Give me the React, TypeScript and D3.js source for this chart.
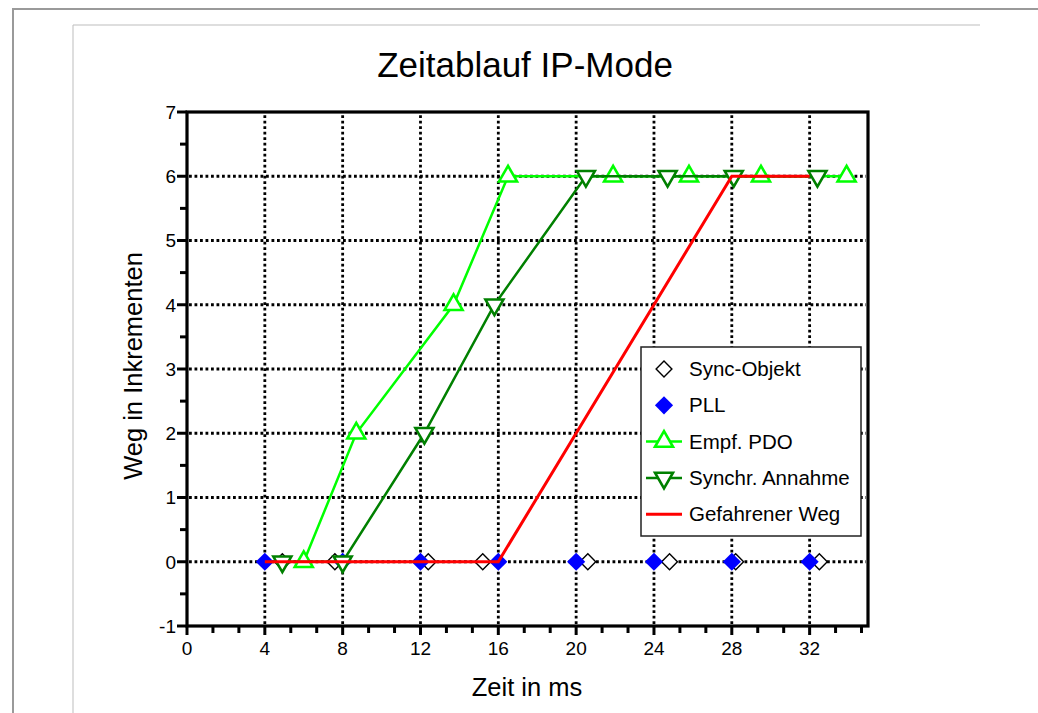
import React from 'react';
import * as d3 from 'd3';

// values (x in ms, y in increments)
const syncX = [4.9, 7.6, 12.4, 15.2, 20.6, 24.8, 28.2, 32.5];
const syncY = [0, 0, 0, 0, 0, 0, 0, 0];
const pllX = [4, 8, 12, 16, 20, 24, 28, 32];
const pllY = [0, 0, 0, 0, 0, 0, 0, 0];
const pdoX = [6.0, 8.7, 13.7, 16.5, 21.9, 25.8, 29.5, 33.9];
const pdoY = [0, 2, 4, 6, 6, 6, 6, 6];
const annX = [4.9, 8.0, 12.2, 15.8, 20.5, 24.7, 28.1, 32.4];
const annY = [0, 0, 2, 4, 6, 6, 6, 6];
const wegX = [4, 16, 28, 32];
const wegY = [0, 0, 6, 6];

const xTickLabels = [0, 4, 8, 12, 16, 20, 24, 28, 32];
const yTickLabels = [-1, 0, 1, 2, 3, 4, 5, 6, 7];
const legendLabels = ['Sync-Objekt', 'PLL', 'Empf. PDO', 'Synchr. Annahme', 'Gefahrener Weg'];

const W = 1038;
const H = 713;
const FONT = '"Liberation Sans", Arial, Helvetica, sans-serif';

const LIGHT = '#00ff00';
const DARK = '#008000';
const RED = '#ff0000';
const BLUE = '#0000ff';

export default function App() {
  const margin = { left: 187, right: 868, top: 112, bottom: 626 };
  const x = d3.scaleLinear().domain([0, 35]).range([margin.left, margin.right]);
  const y = d3.scaleLinear().domain([-1, 7]).range([margin.bottom, margin.top]);

  const zip = (xs: number[], ys: number[]) => xs.map((v, i) => [v, ys[i]] as [number, number]);
  const line = d3.line<[number, number]>().x(d => x(d[0])).y(d => y(d[1]));

  const diamondFilled = d3.symbol().type(d3.symbolSquare).size(165)()!;
  const diamondOpen = d3.symbol().type(d3.symbolSquare).size(125)()!;
  const tri = d3.symbol().type(d3.symbolTriangle).size(140)()!;

  const xMinor = d3.range(0, 27).map(i => i * 4 / 3);
  const yMinor = d3.range(-1, 7.01, 0.5);

  const gridDash = '2.8 2.7';

  const legendBox = { x: 641, y: 347, w: 220, h: 189 };
  const rowY = (i: number) => legendBox.y + 22 + i * 36.3;
  const symX = legendBox.x + 23;

  const legendMarker = (i: number, cy: number) => {
    switch (i) {
      case 0:
        return <path d={diamondOpen} transform={`translate(${symX},${cy}) rotate(45)`} fill="#fff" stroke="#000" strokeWidth={1.4} />;
      case 1:
        return <path d={diamondFilled} transform={`translate(${symX},${cy}) rotate(45)`} fill={BLUE} />;
      case 2:
        return (
          <g>
            <line x1={legendBox.x + 5} x2={legendBox.x + 41} y1={cy} y2={cy} stroke={LIGHT} strokeWidth={2.5} />
            <path d={tri} transform={`translate(${symX},${cy})`} fill="#fff" stroke={LIGHT} strokeWidth={2.6} />
          </g>
        );
      case 3:
        return (
          <g>
            <line x1={legendBox.x + 5} x2={legendBox.x + 41} y1={cy} y2={cy} stroke={DARK} strokeWidth={2.5} />
            <path d={tri} transform={`translate(${symX},${cy}) rotate(180)`} fill="#fff" stroke={DARK} strokeWidth={2.6} />
          </g>
        );
      default:
        return <line x1={legendBox.x + 5} x2={legendBox.x + 41} y1={cy} y2={cy} stroke={RED} strokeWidth={3} />;
    }
  };

  const tickFont = { fontSize: '19px', fontFamily: FONT };

  return (
    <svg width={W} height={H} style={{ position: 'absolute', left: 0, top: 0, background: '#fff', fontFamily: FONT }}>
      {/* page frames */}
      <path d={`M13,${H} V9 H${W}`} fill="none" stroke="#9a9a9a" strokeWidth={2} />
      <path d={`M73,${H} V25 H980`} fill="none" stroke="#bdbdbd" strokeWidth={1} />

      <text x={525} y={77} textAnchor="middle" style={{ fontSize: '35px' }}>Zeitablauf IP-Mode</text>

      {/* grid */}
      <g stroke="#000" strokeWidth={2.8} strokeDasharray={gridDash}>
        {xTickLabels.filter(v => v > 0).map(v => (
          <line key={'gx' + v} x1={x(v)} x2={x(v)} y1={margin.bottom - 2} y2={margin.top + 3} />
        ))}
        {yTickLabels.filter(v => v > -1 && v < 7).map(v => (
          <line key={'gy' + v} x1={margin.left + 2} x2={margin.right - 2} y1={y(v)} y2={y(v)} />
        ))}
      </g>

      {/* ticks */}
      <g stroke="#000" strokeWidth={3}>
        {xMinor.map((v, i) => (
          <line key={'xt' + i} x1={x(v)} x2={x(v)} y1={margin.bottom} y2={margin.bottom + (i % 3 === 0 ? 9 : 7)} />
        ))}
        {yMinor.map((v, i) => (
          <line key={'yt' + i} x1={margin.left} x2={margin.left - (i % 2 === 0 ? 10 : 7)} y1={y(v)} y2={y(v)} />
        ))}
      </g>
      {xTickLabels.map(v => (
        <text key={'xl' + v} x={x(v)} y={655} textAnchor="middle" style={tickFont}>{v}</text>
      ))}
      {yTickLabels.map(v => (
        <text key={'yl' + v} x={margin.left - 11} y={y(v) + 6.8} textAnchor="end" style={tickFont}>{v}</text>
      ))}

      <text x={527} y={696} textAnchor="middle" style={{ fontSize: '25.5px' }}>Zeit in ms</text>
      <text transform={`translate(142,366) rotate(-90)`} textAnchor="middle" style={{ fontSize: '25.5px' }}>Weg in Inkrementen</text>

      {/* series */}
      {zip(syncX, syncY).map((d, i) => (
        <path key={'s' + i} d={diamondOpen} transform={`translate(${x(d[0])},${y(d[1])}) rotate(45)`} fill="#fff" stroke="#000" strokeWidth={1.4} />
      ))}
      {zip(pllX, pllY).map((d, i) => (
        <path key={'p' + i} d={diamondFilled} transform={`translate(${x(d[0])},${y(d[1])}) rotate(45)`} fill={BLUE} />
      ))}
      <path d={line(zip(pdoX, pdoY))!} fill="none" stroke={LIGHT} strokeWidth={2.5} />
      {zip(pdoX, pdoY).map((d, i) => (
        <path key={'e' + i} d={tri} transform={`translate(${x(d[0])},${y(d[1])})`} fill="#fff" stroke={LIGHT} strokeWidth={2.6} />
      ))}
      <path d={line(zip(annX, annY))!} fill="none" stroke={DARK} strokeWidth={2.5} />
      {zip(annX, annY).map((d, i) => (
        <path key={'a' + i} d={tri} transform={`translate(${x(d[0])},${y(d[1])}) rotate(180)`} fill="#fff" stroke={DARK} strokeWidth={2.6} />
      ))}
      <path d={line(zip(wegX, wegY))!} fill="none" stroke={RED} strokeWidth={3} />

      {/* plot frame */}
      <rect x={margin.left} y={margin.top} width={margin.right - margin.left} height={margin.bottom - margin.top}
        fill="none" stroke="#000" strokeWidth={3.2} />

      {/* legend */}
      <rect x={legendBox.x} y={legendBox.y} width={legendBox.w} height={legendBox.h} fill="#fff" stroke="#222" strokeWidth={1.5} />
      {legendLabels.map((label, i) => (
        <g key={'lg' + i}>
          {legendMarker(i, rowY(i))}
          <text x={legendBox.x + 48} y={rowY(i) + 7} style={{ fontSize: '20.5px' }}>{label}</text>
        </g>
      ))}
    </svg>
  );
}
